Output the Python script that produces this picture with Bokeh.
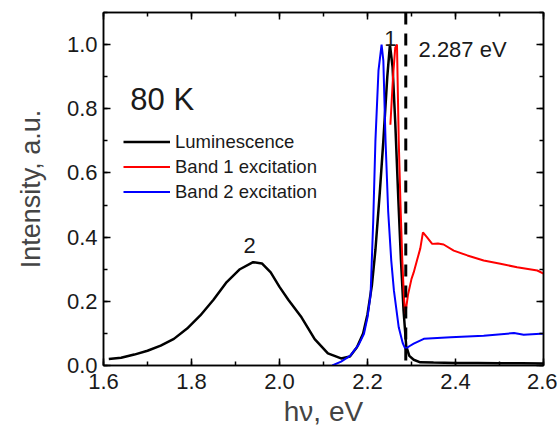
from bokeh.plotting import figure
from bokeh.models import (LinearAxis, SingleIntervalTicker, PrintfTickFormatter, Span,
                          Label, Legend, LegendItem, Range1d, CustomJSTickFormatter)
from bokeh.embed import file_html
from bokeh.resources import INLINE

# ---- data ----
lum_x = [1.612, 1.64, 1.67, 1.70, 1.73, 1.76, 1.79, 1.82, 1.85, 1.88, 1.91, 1.94, 1.96,
         1.98, 2.00, 2.02, 2.05, 2.08, 2.11, 2.14, 2.16, 2.176, 2.19, 2.20, 2.21, 2.218,
         2.228, 2.236, 2.245, 2.251, 2.257, 2.263, 2.270, 2.276, 2.282, 2.288, 2.295,
         2.305, 2.32, 2.35, 2.40, 2.45, 2.50, 2.55, 2.60]
lum_y = [0.020, 0.024, 0.034, 0.046, 0.062, 0.083, 0.115, 0.156, 0.205, 0.260, 0.300,
         0.322, 0.318, 0.290, 0.245, 0.205, 0.150, 0.082, 0.038, 0.022, 0.028, 0.057,
         0.100, 0.160, 0.250, 0.360, 0.540, 0.700, 0.900, 1.000, 0.930, 0.760, 0.520,
         0.330, 0.170, 0.060, 0.030, 0.018, 0.010, 0.009, 0.008, 0.008, 0.007, 0.007, 0.006]

b1_x = [2.252, 2.258, 2.263, 2.267, 2.271, 2.275, 2.279, 2.283, 2.286, 2.292, 2.300,
        2.305, 2.313, 2.320, 2.326, 2.335, 2.347, 2.36, 2.373, 2.396, 2.427, 2.464,
        2.502, 2.540, 2.586, 2.60]
b1_y = [0.75, 0.90, 0.99, 1.00, 0.70, 0.50, 0.33, 0.21, 0.16, 0.22, 0.27, 0.29, 0.33,
        0.365, 0.415, 0.400, 0.379, 0.380, 0.377, 0.358, 0.343, 0.327, 0.317, 0.306,
        0.296, 0.286]

b2_x = [2.120, 2.14, 2.161, 2.18, 2.192, 2.200, 2.207, 2.213, 2.218, 2.225, 2.232,
        2.236, 2.241, 2.247, 2.254, 2.260, 2.271, 2.280, 2.286, 2.295, 2.305, 2.328,
        2.389, 2.464, 2.533, 2.555, 2.593, 2.60]
b2_y = [0.0, 0.012, 0.031, 0.065, 0.099, 0.15, 0.22, 0.45, 0.70, 0.92, 1.00, 0.95,
        0.70, 0.48, 0.327, 0.234, 0.119, 0.07, 0.052, 0.060, 0.068, 0.083, 0.088,
        0.093, 0.101, 0.096, 0.099, 0.099]

EDGE = 2.287
series_names = ["Luminescence", "Band 1 excitation", "Band 2 excitation"]

FONT = "Liberation Sans"

p = figure(width=557, height=430, output_backend="svg", toolbar_location=None,
           x_range=Range1d(1.6, 2.6), y_range=Range1d(0.0, 1.1),
           min_border_left=103, min_border_right=14, min_border_top=12,
           min_border_bottom=65)
p.xgrid.visible = False
p.ygrid.visible = False
p.outline_line_color = "black"
p.outline_line_width = 1.5
p.background_fill_color = "white"
p.border_fill_color = "white"

r_lum = p.line(lum_x, lum_y, line_color="black", line_width=2.5)
r_b1 = p.line(b1_x, b1_y, line_color="#ff0000", line_width=2)
r_b2 = p.line(b2_x, b2_y, line_color="#0000ff", line_width=2)

p.add_layout(Span(location=EDGE, dimension="height", line_color="black",
                  line_width=3, line_dash="12 9"))

def style_axis(ax, labels=True):
    ax.axis_line_color = "black"
    ax.axis_line_width = 1.5
    ax.major_tick_in = 7
    ax.major_tick_out = 0
    ax.minor_tick_in = 4
    ax.minor_tick_out = 0
    ax.major_tick_line_color = "black"
    ax.minor_tick_line_color = "black"
    ax.major_tick_line_width = 1.5
    ax.minor_tick_line_width = 1.5
    ax.major_label_text_font = FONT
    ax.major_label_text_color = "#1a1a1a"
    ax.major_label_text_font_size = "22px"
    if not labels:
        ax.formatter = CustomJSTickFormatter(code="return '';")
        ax.major_label_standoff = 0

xt = SingleIntervalTicker(interval=0.2, num_minor_ticks=2)
yt = SingleIntervalTicker(interval=0.2, num_minor_ticks=2)
fmt = PrintfTickFormatter(format="%.1f")

xa = p.xaxis[0]
xa.ticker = xt
xa.formatter = fmt
style_axis(xa)
xa.major_label_standoff = 8
xa.axis_label = "hν, eV"
xa.axis_label_text_font = FONT
xa.axis_label_text_font_size = "28px"
xa.axis_label_text_font_style = "normal"
xa.axis_label_standoff = 4

ya = p.yaxis[0]
ya.ticker = yt
ya.formatter = fmt
style_axis(ya)
ya.major_label_standoff = 6
ya.axis_label = "Intensity, a.u."
ya.axis_label_text_font = FONT
ya.axis_label_text_font_size = "27px"
ya.axis_label_text_font_style = "normal"
ya.axis_label_standoff = 18

top = LinearAxis(ticker=xt)
style_axis(top, labels=False)
p.add_layout(top, "above")
right = LinearAxis(ticker=yt)
style_axis(right, labels=False)
p.add_layout(right, "right")

legend = Legend(items=[LegendItem(label=series_names[0], renderers=[r_lum]),
                       LegendItem(label=series_names[1], renderers=[r_b1]),
                       LegendItem(label=series_names[2], renderers=[r_b2])],
                location=(20, 161), padding=0, margin=0, spacing=0,
                glyph_width=47, glyph_height=25, label_height=25, label_standoff=5,
                border_line_alpha=0, background_fill_alpha=0,
                label_text_font=FONT, label_text_font_size="18.5px",
                label_text_color="#1a1a1a")
p.add_layout(legend, "center")

def add_label(x, y, text, size, align="left"):
    p.add_layout(Label(x=x, y=y, text=text, text_font=FONT, text_font_size=size,
                       text_align=align, text_baseline="alphabetic",
                       text_color="#1a1a1a"))

add_label(1.661, 0.829, "80 K", "31px")
add_label(2.316, 0.984, "2.287 eV", "22px")
add_label(2.252, 1.019, "1", "22px", "center")
add_label(1.932, 0.374, "2", "22px", "center")

open("out.html", "w").write(file_html(p, INLINE))
